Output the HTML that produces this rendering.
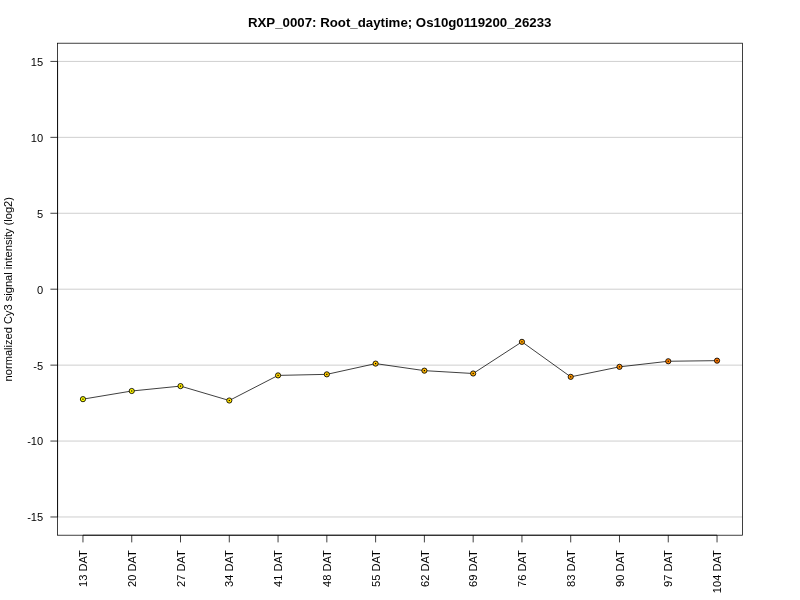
<!DOCTYPE html>
<html><head><meta charset="utf-8"><title>RXP_0007</title>
<style>
html,body{margin:0;padding:0;background:#fff;}
svg{display:block;will-change:transform;}
text{font-family:"Liberation Sans",sans-serif;fill:#000;}
</style></head>
<body>
<svg width="800" height="600" viewBox="0 0 800 600">
<rect x="0" y="0" width="800" height="600" fill="#ffffff"/>
<g stroke="#bebebe" stroke-width="0.75" fill="none">
<line x1="57.60" y1="516.98" x2="742.40" y2="516.98"/>
<line x1="57.60" y1="441.05" x2="742.40" y2="441.05"/>
<line x1="57.60" y1="365.13" x2="742.40" y2="365.13"/>
<line x1="57.60" y1="289.20" x2="742.40" y2="289.20"/>
<line x1="57.60" y1="213.27" x2="742.40" y2="213.27"/>
<line x1="57.60" y1="137.35" x2="742.40" y2="137.35"/>
<line x1="57.60" y1="61.42" x2="742.40" y2="61.42"/>
</g>
<polyline points="82.96,399.15 131.74,391.00 180.51,386.10 229.29,400.50 278.06,375.40 326.84,374.35 375.61,363.60 424.39,370.65 473.16,373.50 521.94,341.85 570.71,376.85 619.49,366.85 668.26,361.25 717.04,360.65" fill="none" stroke="#000" stroke-width="0.75" stroke-linejoin="round"/>
<circle cx="82.96" cy="399.15" r="2.60" fill="rgb(255,255,0)" stroke="#000" stroke-width="0.85"/>
<rect x="82.36" y="398.55" width="1.2" height="1.2" fill="#000" fill-opacity="1"/>
<circle cx="131.74" cy="391.00" r="2.60" fill="rgb(255,245,0)" stroke="#000" stroke-width="0.85"/>
<rect x="131.14" y="390.40" width="1.2" height="1.2" fill="#000" fill-opacity="1"/>
<circle cx="180.51" cy="386.10" r="2.60" fill="rgb(255,234,0)" stroke="#000" stroke-width="0.85"/>
<rect x="179.91" y="385.50" width="1.2" height="1.2" fill="#000" fill-opacity="1"/>
<circle cx="229.29" cy="400.50" r="2.60" fill="rgb(255,224,0)" stroke="#000" stroke-width="0.85"/>
<rect x="228.69" y="399.90" width="1.2" height="1.2" fill="#000" fill-opacity="1"/>
<circle cx="278.06" cy="375.40" r="2.60" fill="rgb(255,213,0)" stroke="#000" stroke-width="0.85"/>
<rect x="277.46" y="374.80" width="1.2" height="1.2" fill="#000" fill-opacity="1"/>
<circle cx="326.84" cy="374.35" r="2.60" fill="rgb(255,203,0)" stroke="#000" stroke-width="0.85"/>
<rect x="326.24" y="373.75" width="1.2" height="1.2" fill="#000" fill-opacity="1"/>
<circle cx="375.61" cy="363.60" r="2.60" fill="rgb(255,193,0)" stroke="#000" stroke-width="0.85"/>
<rect x="375.01" y="363.00" width="1.2" height="1.2" fill="#000" fill-opacity="1"/>
<circle cx="424.39" cy="370.65" r="2.60" fill="rgb(255,182,0)" stroke="#000" stroke-width="0.85"/>
<rect x="423.79" y="370.05" width="1.2" height="1.2" fill="#000" fill-opacity="1"/>
<circle cx="473.16" cy="373.50" r="2.60" fill="rgb(255,172,0)" stroke="#000" stroke-width="0.85"/>
<rect x="472.56" y="372.90" width="1.2" height="1.2" fill="#000" fill-opacity="1"/>
<circle cx="521.94" cy="341.85" r="2.60" fill="rgb(255,161,0)" stroke="#000" stroke-width="0.85"/>
<rect x="521.34" y="341.25" width="1.2" height="1.2" fill="#000" fill-opacity="1"/>
<circle cx="570.71" cy="376.85" r="2.60" fill="rgb(255,151,0)" stroke="#000" stroke-width="0.85"/>
<rect x="570.11" y="376.25" width="1.2" height="1.2" fill="#000" fill-opacity="1"/>
<circle cx="619.49" cy="366.85" r="2.60" fill="rgb(255,141,0)" stroke="#000" stroke-width="0.85"/>
<rect x="618.89" y="366.25" width="1.2" height="1.2" fill="#000" fill-opacity="1"/>
<circle cx="668.26" cy="361.25" r="2.60" fill="rgb(255,130,0)" stroke="#000" stroke-width="0.85"/>
<rect x="667.66" y="360.65" width="1.2" height="1.2" fill="#000" fill-opacity="1"/>
<circle cx="717.04" cy="360.65" r="2.60" fill="rgb(255,120,0)" stroke="#000" stroke-width="0.85"/>
<rect x="716.44" y="360.05" width="1.2" height="1.2" fill="#000" fill-opacity="1"/>
<rect x="57.60" y="43.20" width="684.80" height="492.00" fill="none" stroke="#000" stroke-width="0.75"/>
<g stroke="#000" stroke-width="0.75" fill="none">
<line x1="82.96" y1="535.20" x2="717.04" y2="535.20"/>
<line x1="82.96" y1="535.20" x2="82.96" y2="542.40"/>
<line x1="131.74" y1="535.20" x2="131.74" y2="542.40"/>
<line x1="180.51" y1="535.20" x2="180.51" y2="542.40"/>
<line x1="229.29" y1="535.20" x2="229.29" y2="542.40"/>
<line x1="278.06" y1="535.20" x2="278.06" y2="542.40"/>
<line x1="326.84" y1="535.20" x2="326.84" y2="542.40"/>
<line x1="375.61" y1="535.20" x2="375.61" y2="542.40"/>
<line x1="424.39" y1="535.20" x2="424.39" y2="542.40"/>
<line x1="473.16" y1="535.20" x2="473.16" y2="542.40"/>
<line x1="521.94" y1="535.20" x2="521.94" y2="542.40"/>
<line x1="570.71" y1="535.20" x2="570.71" y2="542.40"/>
<line x1="619.49" y1="535.20" x2="619.49" y2="542.40"/>
<line x1="668.26" y1="535.20" x2="668.26" y2="542.40"/>
<line x1="717.04" y1="535.20" x2="717.04" y2="542.40"/>
<line x1="57.60" y1="516.98" x2="57.60" y2="61.42"/>
<line x1="50.40" y1="516.98" x2="57.60" y2="516.98"/>
<line x1="50.40" y1="441.05" x2="57.60" y2="441.05"/>
<line x1="50.40" y1="365.13" x2="57.60" y2="365.13"/>
<line x1="50.40" y1="289.20" x2="57.60" y2="289.20"/>
<line x1="50.40" y1="213.27" x2="57.60" y2="213.27"/>
<line x1="50.40" y1="137.35" x2="57.60" y2="137.35"/>
<line x1="50.40" y1="61.42" x2="57.60" y2="61.42"/>
</g>
<g font-size="11.1px" text-anchor="end">
<text x="43.20" y="521.38">-15</text>
<text x="43.20" y="445.45">-10</text>
<text x="43.20" y="369.53">-5</text>
<text x="43.20" y="293.60">0</text>
<text x="43.20" y="217.67">5</text>
<text x="43.20" y="141.75">10</text>
<text x="43.20" y="65.82">15</text>
</g>
<g font-size="11.1px" text-anchor="end">
<text transform="translate(87.16,550.20) rotate(-90)">13 DAT</text>
<text transform="translate(135.94,550.20) rotate(-90)">20 DAT</text>
<text transform="translate(184.71,550.20) rotate(-90)">27 DAT</text>
<text transform="translate(233.49,550.20) rotate(-90)">34 DAT</text>
<text transform="translate(282.26,550.20) rotate(-90)">41 DAT</text>
<text transform="translate(331.04,550.20) rotate(-90)">48 DAT</text>
<text transform="translate(379.81,550.20) rotate(-90)">55 DAT</text>
<text transform="translate(428.59,550.20) rotate(-90)">62 DAT</text>
<text transform="translate(477.36,550.20) rotate(-90)">69 DAT</text>
<text transform="translate(526.14,550.20) rotate(-90)">76 DAT</text>
<text transform="translate(574.91,550.20) rotate(-90)">83 DAT</text>
<text transform="translate(623.69,550.20) rotate(-90)">90 DAT</text>
<text transform="translate(672.46,550.20) rotate(-90)">97 DAT</text>
<text transform="translate(721.24,550.20) rotate(-90)">104 DAT</text>
</g>
<text font-size="11.1px" text-anchor="middle" transform="translate(11.70,289.20) rotate(-90)">normalized Cy3 signal intensity (log2)</text>
<text font-size="13.25px" font-weight="bold" text-anchor="middle" x="399.7" y="27">RXP_0007: Root_daytime; Os10g0119200_26233</text>
</svg>
</body></html>
